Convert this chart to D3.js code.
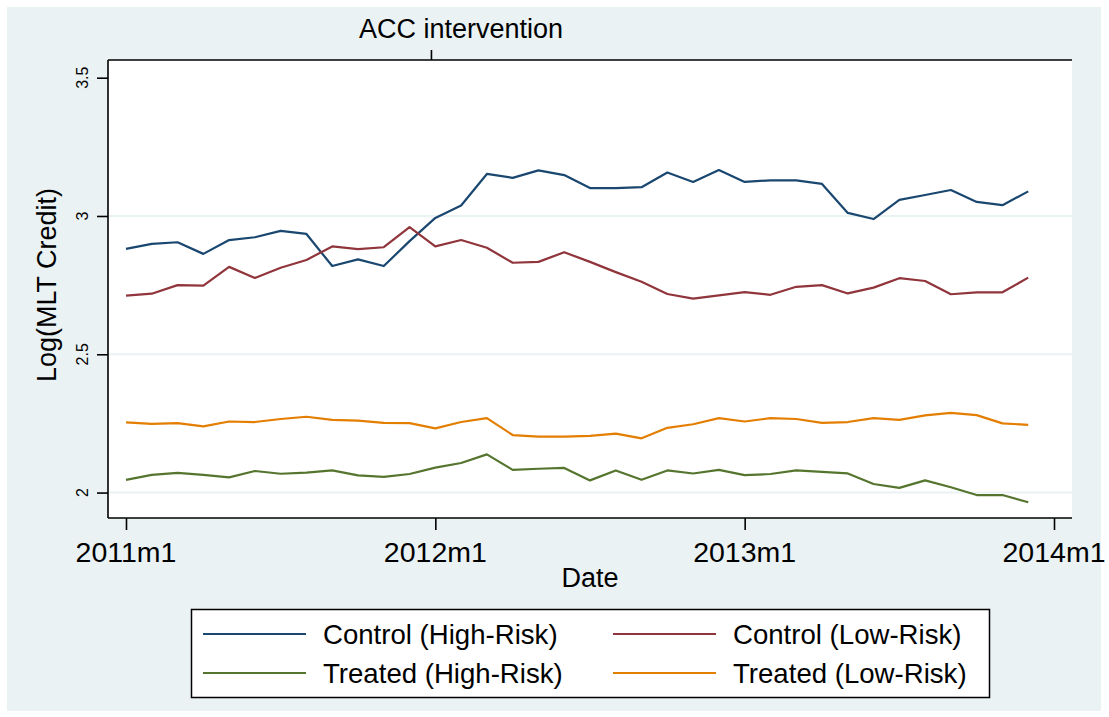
<!DOCTYPE html>
<html>
<head>
<meta charset="utf-8">
<script src="https://cdn.jsdelivr.net/npm/d3@7"></script>
<style>
  html, body { margin: 0; padding: 0; background: #ffffff; }
  svg { display: block; font-family: "Liberation Sans", Arial, sans-serif; }
</style>
</head>
<body>
<svg id="chart" width="1109" height="717"></svg>
<script>
// ---- data ----
const months = ["2011m1","2011m2","2011m3","2011m4","2011m5","2011m6","2011m7","2011m8","2011m9","2011m10","2011m11","2011m12",
                "2012m1","2012m2","2012m3","2012m4","2012m5","2012m6","2012m7","2012m8","2012m9","2012m10","2012m11","2012m12",
                "2013m1","2013m2","2013m3","2013m4","2013m5","2013m6","2013m7","2013m8","2013m9","2013m10","2013m11","2013m12"];

const controlHigh = [2.881,2.899,2.905,2.863,2.913,2.923,2.946,2.935,2.819,2.843,2.819,2.909,
                     2.993,3.038,3.152,3.138,3.165,3.148,3.101,3.101,3.104,3.157,3.123,3.166,
                     3.123,3.129,3.129,3.116,3.011,2.989,3.058,3.076,3.094,3.051,3.039,3.089];
const controlLow  = [2.712,2.719,2.750,2.748,2.816,2.776,2.813,2.841,2.890,2.880,2.887,2.960,
                     2.890,2.913,2.885,2.831,2.834,2.869,2.834,2.797,2.762,2.718,2.701,2.713,
                     2.725,2.715,2.744,2.750,2.720,2.741,2.775,2.765,2.717,2.724,2.724,2.777];
const treatedHigh = [2.046,2.064,2.071,2.064,2.055,2.078,2.068,2.072,2.080,2.062,2.057,2.067,
                     2.090,2.107,2.138,2.082,2.086,2.089,2.044,2.080,2.046,2.080,2.069,2.082,
                     2.063,2.067,2.080,2.075,2.069,2.031,2.017,2.044,2.019,1.991,1.991,1.965];
const treatedLow  = [2.254,2.248,2.251,2.239,2.257,2.255,2.266,2.274,2.263,2.260,2.252,2.251,
                     2.232,2.255,2.269,2.208,2.202,2.202,2.205,2.213,2.196,2.234,2.247,2.269,
                     2.257,2.269,2.266,2.252,2.255,2.269,2.263,2.279,2.288,2.280,2.250,2.245];

const seriesNames = ["Control (High-Risk)","Control (Low-Risk)","Treated (High-Risk)","Treated (Low-Risk)"];
const seriesColors = ["#1a476f","#90353b","#55752f","#e37e00"];

const xTickLabels = ["2011m1","2012m1","2013m1","2014m1"];
const xTickMonths = [0, 12, 24, 36];
const yTicks = [2, 2.5, 3, 3.5];
const yTickLabels = ["2","2.5","3","3.5"];
const yGrid = [2, 2.5, 3];
const accLabel = "ACC intervention";
const accMonth = 11.83;

// ---- layout ----
const svg = d3.select("#chart");
const plot = {left: 108, right: 1072, top: 60, bottom: 518};

svg.append("rect").attr("x", 7).attr("y", 7).attr("width", 1094).attr("height", 704)
   .attr("fill", "#eaf2f3");
svg.append("rect").attr("x", plot.left).attr("y", plot.top)
   .attr("width", plot.right - plot.left).attr("height", plot.bottom - plot.top)
   .attr("fill", "#ffffff");

const x = d3.scaleLinear().domain([-0.698, 36.698]).range([plot.left, plot.right]);
const y = d3.scaleLinear().domain([1.908, 3.564]).range([plot.bottom, plot.top]);

// gridlines
svg.append("g").selectAll("line").data(yGrid).join("line")
  .attr("x1", plot.left).attr("x2", plot.right)
  .attr("y1", d => y(d)).attr("y2", d => y(d))
  .attr("stroke", "#eaf2f3").attr("stroke-width", 2);

// lines
const data = [controlHigh, controlLow, treatedHigh, treatedLow];
const line = d3.line().x((d, i) => x(i)).y(d => y(d));
const gl = svg.append("g");
data.forEach((s, k) => {
  gl.append("path").datum(s).attr("d", line)
    .attr("fill", "none").attr("stroke", seriesColors[k])
    .attr("stroke-width", 2.2).attr("stroke-linejoin", "round");
});

// y axis
const yAxis = d3.axisLeft(y).tickValues(yTicks).tickSize(11).tickFormat("");
const gy = svg.append("g").attr("transform", `translate(${plot.left},0)`).call(yAxis);
gy.select(".domain").attr("d", `M0,${plot.top}V${plot.bottom}`).attr("stroke", "#000").attr("stroke-width", 1.6);
gy.selectAll(".tick line").attr("stroke", "#000").attr("stroke-width", 1.6);
svg.append("g").selectAll("text").data(yTicks).join("text")
  .attr("transform", (d) => `translate(88,${y(d)}) rotate(-90)`)
  .attr("text-anchor", "middle")
  .attr("font-size", 16).attr("fill", "#000")
  .text((d, i) => yTickLabels[i]);

// x axis
const xAxis = d3.axisBottom(x).tickValues(xTickMonths).tickSize(12).tickFormat("");
const gx = svg.append("g").attr("transform", `translate(0,${plot.bottom})`).call(xAxis);
gx.select(".domain").attr("d", `M${plot.left},0H${plot.right}`).attr("stroke", "#000").attr("stroke-width", 1.6);
gx.selectAll(".tick line").attr("stroke", "#000").attr("stroke-width", 1.6);
svg.append("g").selectAll("text").data(xTickMonths).join("text")
  .attr("x", d => x(d)).attr("y", 562)
  .attr("text-anchor", "middle").attr("font-size", 28.5).attr("fill", "#000")
  .text((d, i) => xTickLabels[i]);

// top axis (ACC intervention)
const topAxis = d3.axisTop(x).tickValues([accMonth]).tickSize(10).tickFormat("");
const gt = svg.append("g").attr("transform", `translate(0,${plot.top})`).call(topAxis);
gt.select(".domain").attr("d", `M${plot.left},0H${plot.right}`).attr("stroke", "#000").attr("stroke-width", 1.6);
gt.selectAll(".tick line").attr("stroke", "#000").attr("stroke-width", 1.6);
svg.append("text").attr("x", x(accMonth) + 30).attr("y", 38)
  .attr("text-anchor", "middle").attr("font-size", 27).attr("fill", "#000")
  .text(accLabel);

// axis titles
svg.append("text").attr("x", (plot.left + plot.right) / 2).attr("y", 587)
  .attr("text-anchor", "middle").attr("font-size", 27).attr("fill", "#000").text("Date");
svg.append("text").attr("transform", `translate(56,${(plot.top + plot.bottom) / 2 - 4}) rotate(-90)`)
  .attr("text-anchor", "middle").attr("font-size", 27).attr("fill", "#000").text("Log(MLT Credit)");

// legend
const leg = svg.append("g");
leg.append("rect").attr("x", 191.5).attr("y", 609.5).attr("width", 798).attr("height", 88)
  .attr("fill", "#ffffff").attr("stroke", "#000").attr("stroke-width", 1.5);
const legPos = [[203, 634], [613, 634], [203, 673], [613, 673]];
seriesNames.forEach((n, k) => {
  const [lx, ly] = legPos[k];
  leg.append("line").attr("x1", lx).attr("x2", lx + 103).attr("y1", ly).attr("y2", ly)
    .attr("stroke", seriesColors[k]).attr("stroke-width", 2.2);
  leg.append("text").attr("x", lx + 120).attr("y", ly + 9.5)
    .attr("font-size", 27.6).attr("fill", "#000").text(n);
});
</script>
</body>
</html>
